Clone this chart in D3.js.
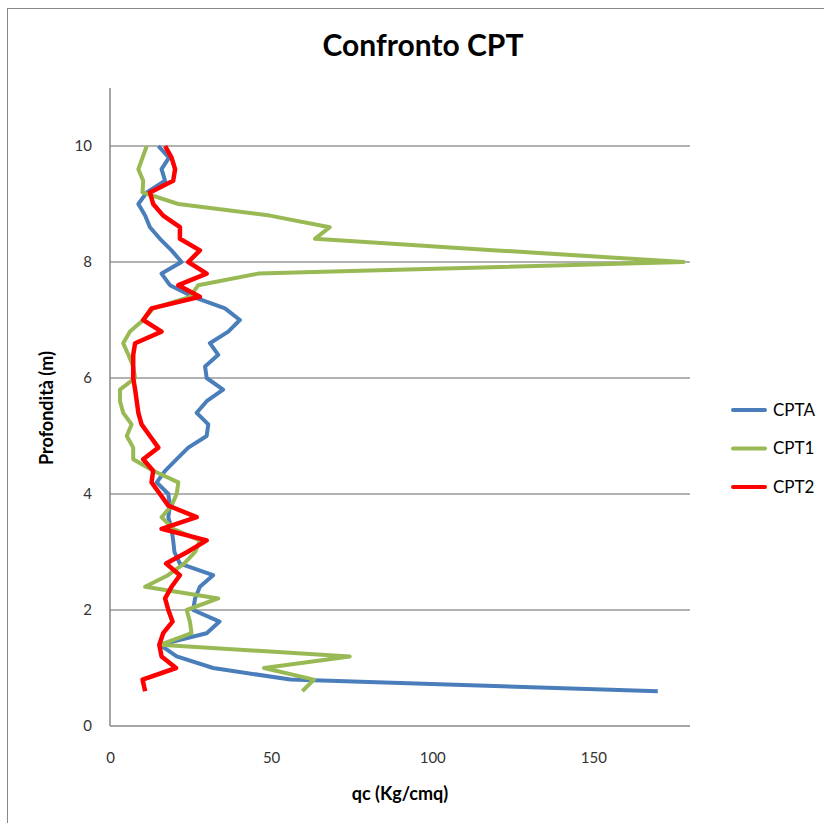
<!DOCTYPE html>
<html>
<head>
<meta charset="utf-8">
<script src="https://cdn.jsdelivr.net/npm/d3@7"></script>
<style>
  body { margin: 0; background: #fff; }
  text { font-family: Lato, "Open Sans", sans-serif; }
</style>
</head>
<body>
<svg id="chart"></svg>
<script>
// depth (m) for every reading, bottom to top
const depths = [0.6, 0.8, 1.0, 1.2, 1.4, 1.6, 1.8, 2.0, 2.2, 2.4, 2.6, 2.8, 3.0, 3.2, 3.4, 3.6,
                3.8, 4.0, 4.2, 4.4, 4.6, 4.8, 5.0, 5.2, 5.4, 5.6, 5.8, 6.0, 6.2, 6.4, 6.6, 6.8,
                7.0, 7.2, 7.4, 7.6, 7.8, 8.0, 8.2, 8.4, 8.6, 8.8, 9.0, 9.2, 9.4, 9.6, 9.8, 10.0];

// qc (Kg/cmq)
const cptA = [170, 56, 32, 20.7, 15.5, 30, 34, 25.8, 26.4, 27.9, 32, 21.7, 20, 19.6, 19.1, 18.1,
              18.6, 18.1, 14.5, 17.1, 20.7, 24.3, 30, 30.5, 26.9, 30, 35.1, 30, 29.5, 33.6, 31, 36.7,
              40.3, 35.7, 25.8, 18.6, 16, 22.2, 19.1, 15.5, 12.4, 10.9, 8.8, 11.4, 17.1, 16, 18.3, 15];
const cpt1 = [59.7, 63.3, 47.8, 74.4, 15.5, 25.3, 24.8, 23.8, 33.6, 10.9, 18, 23, 26.4, 27.9, 19.6, 16,
              19.1, 20.7, 21.2, 13.4, 7.2, 7.2, 5.2, 6.7, 4.1, 3.1, 3.1, 7.8, 7.2, 5.7, 4.1, 6.2,
              10.3, 13.4, 24.8, 27.4, 46, 178, 120, 63.6, 68.2, 49.6, 21.2, 10.1, 10.3, 8.8, 10.1, 11.4];
const cpt2 = [10.9, 10.1, 20.5, 16, 15.3, 16.5, 19.4, 18.1, 17.1, 19.1, 21.7, 17.4, 24, 30, 16, 26.9,
              18.1, 15.5, 12.9, 13.4, 10.3, 15, 12.4, 9.8, 8.8, 8.3, 7.8, 7.2, 7.2, 7.2, 7.8, 16,
              10.3, 12.9, 27.9, 21.2, 30, 24.3, 27.9, 21.7, 21.7, 16.5, 13.4, 12.4, 19.6, 20.2, 19.1, 17.1];

const seriesNames = ["CPTA", "CPT1", "CPT2"];
const seriesValues = [cptA, cpt1, cpt2];
const seriesColors = ["#4a7ebb", "#98b954", "#ff0000"];

const xTicks = [0, 50, 100, 150];
const yTicks = [0, 2, 4, 6, 8, 10];

const W = 824, H = 823;
const margin = {top: 88, right: 134, bottom: 97, left: 110};
const width = W - margin.left - margin.right,
      height = H - margin.top - margin.bottom;

const root = d3.select("#chart").attr("width", W).attr("height", H);

// outer frame
root.append("rect")
    .attr("x", 7.5).attr("y", 8.5)
    .attr("width", 830).attr("height", 830)
    .attr("fill", "none")
    .attr("stroke", "#888")
    .attr("stroke-width", 1);

root.append("text")
    .attr("x", 423).attr("y", 56)
    .attr("text-anchor", "middle")
    .attr("font-size", 30)
    .attr("font-weight", "bold")
    .attr("fill", "#000")
    .text("Confronto CPT");

const svg = root.append("g")
    .attr("transform", `translate(${margin.left},${margin.top})`);

const x = d3.scaleLinear().domain([0, 180]).range([0, width]);
const y = d3.scaleLinear().domain([0, 11]).range([height, 0]);

// horizontal gridlines
svg.selectAll("line.grid")
    .data(yTicks.filter(d => d > 0))
  .enter().append("line")
    .attr("class", "grid")
    .attr("x1", 0).attr("x2", width)
    .attr("y1", d => y(d)).attr("y2", d => y(d))
    .attr("stroke", "#999")
    .attr("stroke-width", 1.3);

// Y Axis
const yAxis = svg.append("g")
    .call(d3.axisLeft(y).tickValues(yTicks).tickSize(0).tickPadding(18));
yAxis.select(".domain").remove();
yAxis.selectAll("text").attr("font-size", 15).attr("fill", "#333")
    .style("font-family", "Lato, sans-serif");

// X Axis
const xAxis = svg.append("g")
    .attr("transform", `translate(0,${height})`)
    .call(d3.axisBottom(x).tickValues(xTicks).tickSize(0).tickPadding(26));
xAxis.select(".domain").remove();
xAxis.selectAll("text").attr("font-size", 15).attr("fill", "#333")
    .style("font-family", "Lato, sans-serif");

svg.append("line")
    .attr("x1", 0).attr("x2", 0).attr("y1", 0).attr("y2", height)
    .attr("stroke", "#888").attr("stroke-width", 1.5);
svg.append("line")
    .attr("x1", 0).attr("x2", width).attr("y1", height).attr("y2", height)
    .attr("stroke", "#888").attr("stroke-width", 1.5);

const line = d3.line()
    .x(d => x(d.v))
    .y(d => y(d.depth));

seriesValues.forEach((vals, i) => {
    const pts = vals.map((v, j) => ({v: v, depth: depths[j]}));
    svg.append("path")
        .datum(pts)
        .attr("fill", "none")
        .attr("stroke", seriesColors[i])
        .attr("stroke-width", i === 2 ? 4.5 : 4)
        .attr("stroke-linejoin", "round")
        .attr("d", line);
});

// axis titles
root.append("text")
    .attr("x", 400).attr("y", 800)
    .attr("text-anchor", "middle")
    .attr("font-size", 18)
    .attr("font-weight", "bold")
    .text("qc (Kg/cmq)");

root.append("text")
    .attr("transform", "translate(53,408) rotate(-90)")
    .attr("text-anchor", "middle")
    .attr("font-size", 18)
    .attr("font-weight", "bold")
    .text("Profondità (m)");

// legend
const legend = root.append("g").attr("transform", "translate(733,410)");
seriesNames.forEach((name, i) => {
    const g = legend.append("g").attr("transform", `translate(0,${i * 38.5})`);
    g.append("line")
        .attr("x1", 0).attr("x2", 32)
        .attr("stroke", seriesColors[i])
        .attr("stroke-width", 4)
        .attr("stroke-linecap", "round");
    g.append("text")
        .attr("x", 40).attr("dy", "0.35em")
        .attr("font-size", 17)
        .attr("fill", "#000")
        .text(name);
});
</script>
</body>
</html>
